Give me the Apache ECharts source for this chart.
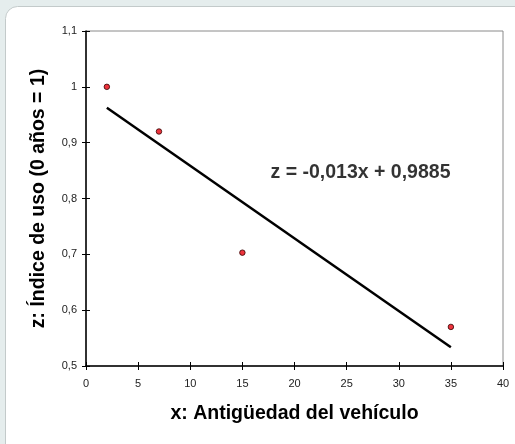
<!DOCTYPE html>
<html>
<head>
<meta charset="utf-8">
<script src="https://cdn.jsdelivr.net/npm/echarts@6/dist/echarts.min.js"></script>
<style>
  html, body { margin: 0; padding: 0; background: #e5eded; }
  #chart { width: 515px; height: 444px; }
</style>
</head>
<body>
<div id="chart"></div>
<script>
// Vehicle age vs. usage index
const ages = [2, 7, 15, 35];
const usageIndex = [1.0, 0.92, 0.703, 0.57];

// Linear fit as printed on the chart: z = -0,013x + 0,9885
const slope = -0.013;
const intercept = 0.9885;
const fitRange = [2, 35];
const equationText = 'z = -0,013x + 0,9885';
const equationAnchor = [17.7, 0.846];

const xTicks = { min: 0, max: 40, interval: 5 };
const yTicks = { min: 0.5, max: 1.1, interval: 0.1 };

const fmtComma = v => {
  const r = Math.round(v * 10) / 10;
  return (Number.isInteger(r) ? String(r) : r.toFixed(1)).replace('.', ',');
};

const font = '"Liberation Sans", Arial, sans-serif';
const labelStyle = { color: '#222', fontSize: 11, fontFamily: font };
const titleStyle = { color: '#000', fontSize: 19.5, fontWeight: 'bold', fontFamily: font };

const chart = echarts.init(document.getElementById('chart'), null, { renderer: 'canvas' });

chart.setOption({
  backgroundColor: 'transparent',
  animation: false,
  graphic: [{
    type: 'rect',
    z: -10,
    shape: { x: 5.5, y: 6.5, width: 530, height: 450, r: 12 },
    style: { fill: '#ffffff', stroke: '#c3caca', lineWidth: 1 }
  }],
  grid: {
    left: 86, right: 12, top: 31, bottom: 78,
    show: true, borderColor: '#8a8a8a', borderWidth: 1, backgroundColor: 'transparent'
  },
  xAxis: [{
    type: 'value', ...xTicks,
    name: 'x: Antigüedad del vehículo',
    nameLocation: 'middle', nameGap: 38, nameTextStyle: titleStyle,
    axisLine: { show: true, lineStyle: { color: '#000', width: 1.5 } },
    axisTick: { show: true, inside: false, length: 4, lineStyle: { color: '#000' } },
    axisLabel: { ...labelStyle, margin: 12 },
    splitLine: { show: false }
  }, {
    type: 'value', ...xTicks, position: 'bottom',
    axisLine: { show: false },
    axisTick: { show: true, inside: true, length: 4, lineStyle: { color: '#000' } },
    axisLabel: { show: false },
    splitLine: { show: false }
  }],
  yAxis: [{
    type: 'value', ...yTicks,
    name: 'z: Índice de uso (0 años = 1)',
    nameLocation: 'middle', nameGap: 37, nameTextStyle: titleStyle,
    axisLine: { show: true, lineStyle: { color: '#000', width: 1.5 } },
    axisTick: { show: true, inside: false, length: 4, lineStyle: { color: '#000' } },
    axisLabel: { ...labelStyle, margin: 9, formatter: fmtComma },
    splitLine: { show: false }
  }, {
    type: 'value', ...yTicks, position: 'left',
    axisLine: { show: false },
    axisTick: { show: true, inside: true, length: 4, lineStyle: { color: '#000' } },
    axisLabel: { show: false },
    splitLine: { show: false }
  }],
  series: [{
    type: 'line',
    data: fitRange.map(x => [x, slope * x + intercept]),
    symbol: 'none',
    lineStyle: { color: '#000', width: 2.5 },
    z: 2
  }, {
    type: 'scatter',
    data: ages.map((x, i) => [x, usageIndex[i]]),
    symbol: 'circle',
    symbolSize: 5.5,
    itemStyle: { color: '#e8000b', borderColor: '#300', borderWidth: 1 },
    z: 3
  }, {
    type: 'scatter',
    data: [equationAnchor],
    symbolSize: 0,
    silent: true,
    label: {
      show: true, position: 'right', distance: 0,
      formatter: equationText,
      ...titleStyle
    }
  }]
});
</script>
</body>
</html>
